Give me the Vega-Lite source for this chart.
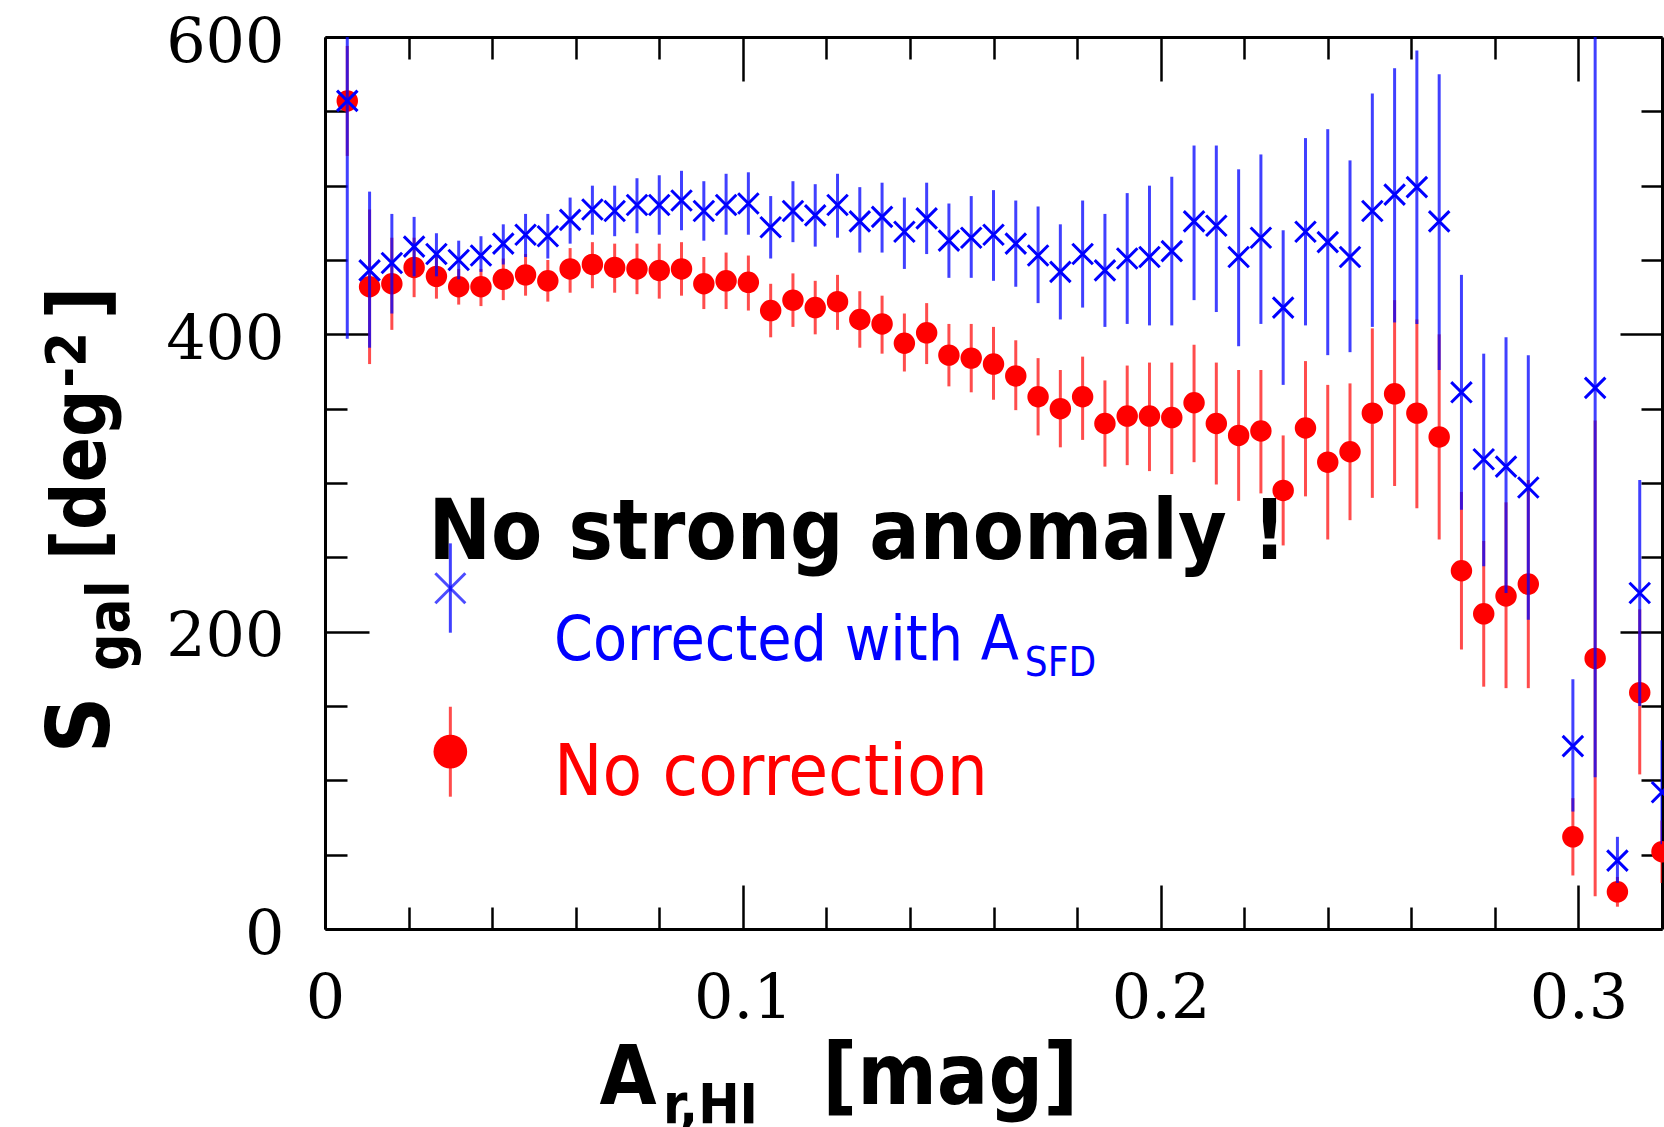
{
  "$schema": "https://vega.github.io/schema/vega-lite/v6.json",
  "autosize": {"type": "none"},
  "padding": {"left": 325, "top": 37, "right": 2, "bottom": 198},
  "width": 1337,
  "height": 892,
  "background": "white",
  "config": {
    "view": {"stroke": null},
    "axis": {
      "domainColor": "black",
      "domainWidth": 3,
      "tickColor": "black",
      "tickWidth": 2.5,
      "grid": false,
      "title": null,
      "labelFlush": false,
      "labelOverlap": false,
      "labelBound": false,
      "labelFont": "DejaVu Serif",
      "labelFontSize": 62,
      "labelColor": "black"
    }
  },
  "data": {
    "values": [
      {"a": 0.00533, "cor": 557, "cor_lo": 397, "cor_hi": 717, "raw": 557, "raw_lo": 520, "raw_hi": 594},
      {"a": 0.01067, "cor": 443, "cor_lo": 391, "cor_hi": 496, "raw": 432, "raw_lo": 380, "raw_hi": 484},
      {"a": 0.016, "cor": 448, "cor_lo": 414, "cor_hi": 481, "raw": 434, "raw_lo": 403, "raw_hi": 465},
      {"a": 0.02133, "cor": 459, "cor_lo": 439, "cor_hi": 479, "raw": 445, "raw_lo": 425, "raw_hi": 465},
      {"a": 0.02667, "cor": 454, "cor_lo": 439, "cor_hi": 468, "raw": 439, "raw_lo": 424, "raw_hi": 454},
      {"a": 0.032, "cor": 450, "cor_lo": 437, "cor_hi": 463, "raw": 432, "raw_lo": 420, "raw_hi": 444},
      {"a": 0.03733, "cor": 453, "cor_lo": 442, "cor_hi": 466, "raw": 432, "raw_lo": 419, "raw_hi": 444},
      {"a": 0.04267, "cor": 461, "cor_lo": 447, "cor_hi": 474, "raw": 437, "raw_lo": 423, "raw_hi": 451},
      {"a": 0.048, "cor": 467, "cor_lo": 452, "cor_hi": 481, "raw": 440, "raw_lo": 426, "raw_hi": 454},
      {"a": 0.05333, "cor": 466, "cor_lo": 451, "cor_hi": 481, "raw": 436, "raw_lo": 422, "raw_hi": 450},
      {"a": 0.05867, "cor": 477, "cor_lo": 461, "cor_hi": 492, "raw": 444, "raw_lo": 428, "raw_hi": 458},
      {"a": 0.064, "cor": 484, "cor_lo": 467, "cor_hi": 500, "raw": 447, "raw_lo": 431, "raw_hi": 462},
      {"a": 0.06933, "cor": 483, "cor_lo": 466, "cor_hi": 500, "raw": 445, "raw_lo": 428, "raw_hi": 461},
      {"a": 0.07467, "cor": 487, "cor_lo": 468, "cor_hi": 505, "raw": 444, "raw_lo": 427, "raw_hi": 461},
      {"a": 0.08, "cor": 487, "cor_lo": 467, "cor_hi": 507, "raw": 443, "raw_lo": 424, "raw_hi": 461},
      {"a": 0.08533, "cor": 490, "cor_lo": 470, "cor_hi": 510, "raw": 444, "raw_lo": 426, "raw_hi": 462},
      {"a": 0.09067, "cor": 483, "cor_lo": 463, "cor_hi": 503, "raw": 434, "raw_lo": 417, "raw_hi": 452},
      {"a": 0.096, "cor": 487, "cor_lo": 467, "cor_hi": 508, "raw": 436, "raw_lo": 417, "raw_hi": 455},
      {"a": 0.10133, "cor": 488, "cor_lo": 467, "cor_hi": 509, "raw": 435, "raw_lo": 416, "raw_hi": 453},
      {"a": 0.10667, "cor": 472, "cor_lo": 451, "cor_hi": 493, "raw": 416, "raw_lo": 398, "raw_hi": 434},
      {"a": 0.112, "cor": 483, "cor_lo": 462, "cor_hi": 503, "raw": 423, "raw_lo": 405, "raw_hi": 441},
      {"a": 0.11733, "cor": 480, "cor_lo": 459, "cor_hi": 501, "raw": 418, "raw_lo": 400, "raw_hi": 436},
      {"a": 0.12267, "cor": 487, "cor_lo": 465, "cor_hi": 508, "raw": 422, "raw_lo": 403, "raw_hi": 440},
      {"a": 0.128, "cor": 476, "cor_lo": 455, "cor_hi": 499, "raw": 410, "raw_lo": 391, "raw_hi": 429},
      {"a": 0.13333, "cor": 479, "cor_lo": 455, "cor_hi": 502, "raw": 407, "raw_lo": 387, "raw_hi": 426},
      {"a": 0.13867, "cor": 469, "cor_lo": 444, "cor_hi": 492, "raw": 394, "raw_lo": 375, "raw_hi": 414},
      {"a": 0.144, "cor": 478, "cor_lo": 454, "cor_hi": 502, "raw": 401, "raw_lo": 380, "raw_hi": 421},
      {"a": 0.14933, "cor": 463, "cor_lo": 438, "cor_hi": 488, "raw": 386, "raw_lo": 365, "raw_hi": 407},
      {"a": 0.15467, "cor": 465, "cor_lo": 438, "cor_hi": 493, "raw": 384, "raw_lo": 361, "raw_hi": 407},
      {"a": 0.16, "cor": 467, "cor_lo": 436, "cor_hi": 497, "raw": 380, "raw_lo": 356, "raw_hi": 405},
      {"a": 0.16533, "cor": 461, "cor_lo": 432, "cor_hi": 490, "raw": 372, "raw_lo": 349, "raw_hi": 396},
      {"a": 0.17067, "cor": 453, "cor_lo": 421, "cor_hi": 486, "raw": 358, "raw_lo": 332, "raw_hi": 384},
      {"a": 0.176, "cor": 442, "cor_lo": 410, "cor_hi": 474, "raw": 350, "raw_lo": 324, "raw_hi": 376},
      {"a": 0.18133, "cor": 454, "cor_lo": 418, "cor_hi": 490, "raw": 358, "raw_lo": 329, "raw_hi": 385},
      {"a": 0.18667, "cor": 443, "cor_lo": 405, "cor_hi": 481, "raw": 340, "raw_lo": 311, "raw_hi": 369},
      {"a": 0.192, "cor": 451, "cor_lo": 407, "cor_hi": 495, "raw": 345, "raw_lo": 312, "raw_hi": 379},
      {"a": 0.19733, "cor": 452, "cor_lo": 406, "cor_hi": 500, "raw": 345, "raw_lo": 308, "raw_hi": 381},
      {"a": 0.20267, "cor": 456, "cor_lo": 406, "cor_hi": 506, "raw": 344, "raw_lo": 306, "raw_hi": 381},
      {"a": 0.208, "cor": 476, "cor_lo": 423, "cor_hi": 527, "raw": 354, "raw_lo": 314, "raw_hi": 393},
      {"a": 0.21333, "cor": 473, "cor_lo": 415, "cor_hi": 527, "raw": 340, "raw_lo": 299, "raw_hi": 381},
      {"a": 0.21867, "cor": 452, "cor_lo": 392, "cor_hi": 511, "raw": 332, "raw_lo": 288, "raw_hi": 376},
      {"a": 0.224, "cor": 465, "cor_lo": 407, "cor_hi": 521, "raw": 335, "raw_lo": 293, "raw_hi": 376},
      {"a": 0.22933, "cor": 418, "cor_lo": 366, "cor_hi": 470, "raw": 295, "raw_lo": 258, "raw_hi": 332},
      {"a": 0.23467, "cor": 469, "cor_lo": 406, "cor_hi": 532, "raw": 337, "raw_lo": 291, "raw_hi": 382},
      {"a": 0.24, "cor": 462, "cor_lo": 386, "cor_hi": 538, "raw": 314, "raw_lo": 262, "raw_hi": 366},
      {"a": 0.24533, "cor": 452, "cor_lo": 388, "cor_hi": 517, "raw": 321, "raw_lo": 275, "raw_hi": 367},
      {"a": 0.25067, "cor": 483, "cor_lo": 405, "cor_hi": 562, "raw": 347, "raw_lo": 290, "raw_hi": 404},
      {"a": 0.256, "cor": 494, "cor_lo": 408, "cor_hi": 579, "raw": 360, "raw_lo": 298, "raw_hi": 423},
      {"a": 0.26133, "cor": 499, "cor_lo": 407, "cor_hi": 591, "raw": 347, "raw_lo": 283, "raw_hi": 410},
      {"a": 0.26667, "cor": 476, "cor_lo": 376, "cor_hi": 575, "raw": 331, "raw_lo": 262, "raw_hi": 400},
      {"a": 0.272, "cor": 361, "cor_lo": 282, "cor_hi": 440, "raw": 241, "raw_lo": 188, "raw_hi": 294},
      {"a": 0.27733, "cor": 316, "cor_lo": 244, "cor_hi": 387, "raw": 212, "raw_lo": 163, "raw_hi": 261},
      {"a": 0.28267, "cor": 311, "cor_lo": 226, "cor_hi": 398, "raw": 224, "raw_lo": 162, "raw_hi": 287},
      {"a": 0.288, "cor": 297, "cor_lo": 208, "cor_hi": 386, "raw": 232, "raw_lo": 162, "raw_hi": 302},
      {"a": 0.29867, "cor": 123, "cor_lo": 79, "cor_hi": 168, "raw": 62, "raw_lo": 36, "raw_hi": 88},
      {"a": 0.304, "cor": 364, "cor_lo": 102, "cor_hi": 626, "raw": 182, "raw_lo": 22, "raw_hi": 342},
      {"a": 0.30933, "cor": 46, "cor_lo": 31, "cor_hi": 62, "raw": 25, "raw_lo": 15, "raw_hi": 35},
      {"a": 0.31467, "cor": 226, "cor_lo": 150, "cor_hi": 302, "raw": 159, "raw_lo": 104, "raw_hi": 215},
      {"a": 0.32, "cor": 92, "cor_lo": 57, "cor_hi": 127, "raw": 52, "raw_lo": 31, "raw_hi": 73}
    ]
  },
  "layer": [
    {
      "mark": {"type": "rule", "color": "#ff0000", "strokeWidth": 3, "opacity": 0.7, "clip": true},
      "encoding": {
        "x": {
          "field": "a", "type": "quantitative",
          "scale": {"domain": [0, 0.32], "nice": false, "zero": false},
          "axis": {
            "orient": "bottom",
            "values": [0, 0.02, 0.04, 0.06, 0.08, 0.1, 0.12, 0.14, 0.16, 0.18, 0.2, 0.22, 0.24, 0.26, 0.28, 0.3],
            "tickSize": {"condition": {"test": "abs(datum.value * 10 - round(datum.value * 10)) < 0.001", "value": -44}, "value": -22},
            "labelExpr": "abs(datum.value * 10 - round(datum.value * 10)) < 0.001 ? (datum.value == 0 ? '0' : format(datum.value, '.1f')) : ''",
            "labelPadding": 83,
            "labelBaseline": "top",
            "labelAlign": "center"
          }
        },
        "y": {
          "field": "raw_lo", "type": "quantitative",
          "scale": {"domain": [0, 600], "nice": false},
          "axis": {
            "orient": "left",
            "values": [0, 50, 100, 150, 200, 250, 300, 350, 400, 450, 500, 550, 600],
            "tickSize": {"condition": {"test": "datum.value % 200 === 0", "value": -44}, "value": -22},
            "labelExpr": "datum.value % 200 === 0 ? datum.label : ''",
            "labelPadding": 85,
            "labelBaseline": "middle",
            "labelAlign": "right",
            "labelOffset": 5
          }
        },
        "y2": {"field": "raw_hi"}
      }
    },
    {
      "mark": {"type": "point", "shape": "circle", "filled": true, "color": "#ff0000", "opacity": 1, "size": 460},
      "encoding": {
        "x": {"field": "a", "type": "quantitative", "scale": {"domain": [0, 0.32], "nice": false, "zero": false}, "axis": null},
        "y": {"field": "raw", "type": "quantitative", "scale": {"domain": [0, 600], "nice": false}, "axis": null}
      }
    },
    {
      "mark": {"type": "rule", "color": "#0000ff", "strokeWidth": 3, "opacity": 0.75, "clip": true},
      "encoding": {
        "x": {"field": "a", "type": "quantitative", "scale": {"domain": [0, 0.32], "nice": false, "zero": false}, "axis": null},
        "y": {"field": "cor_lo", "type": "quantitative", "scale": {"domain": [0, 600], "nice": false}, "axis": null},
        "y2": {"field": "cor_hi"}
      }
    },
    {
      "mark": {"type": "point", "shape": "M-1,-1L1,1M-1,1L1,-1", "filled": false, "color": "#0000ff", "strokeWidth": 3, "opacity": 1, "size": 420},
      "encoding": {
        "x": {
          "field": "a", "type": "quantitative",
          "scale": {"domain": [0, 0.32], "nice": false, "zero": false},
          "axis": {
            "orient": "top",
            "values": [0, 0.02, 0.04, 0.06, 0.08, 0.1, 0.12, 0.14, 0.16, 0.18, 0.2, 0.22, 0.24, 0.26, 0.28, 0.3],
            "tickSize": {"condition": {"test": "abs(datum.value * 10 - round(datum.value * 10)) < 0.001", "value": -44}, "value": -22},
            "labels": false
          }
        },
        "y": {
          "field": "cor", "type": "quantitative",
          "scale": {"domain": [0, 600], "nice": false},
          "axis": {
            "orient": "right",
            "values": [0, 50, 100, 150, 200, 250, 300, 350, 400, 450, 500, 550, 600],
            "tickSize": {"condition": {"test": "datum.value % 200 === 0", "value": -42}, "value": -21},
            "labels": false
          }
        }
      }
    },
    {
      "data": {"values": [{}]},
      "mark": {"type": "text", "text": "No strong anomaly !", "font": "DejaVu Sans Condensed", "fontWeight": "bold", "fontSize": 83, "align": "left", "baseline": "alphabetic", "color": "black"},
      "encoding": {
        "x": {"datum": 0.0248, "type": "quantitative", "scale": {"domain": [0, 0.32], "nice": false, "zero": false}, "axis": null},
        "y": {"datum": 248.7, "type": "quantitative", "scale": {"domain": [0, 600], "nice": false}, "axis": null}
      }
    },
    {
      "data": {"values": [{}]},
      "mark": {"type": "rule", "color": "#0000ff", "strokeWidth": 3, "opacity": 0.75},
      "encoding": {
        "x": {"datum": 0.030, "type": "quantitative", "scale": {"domain": [0, 0.32], "nice": false, "zero": false}, "axis": null},
        "y": {"datum": 199.3, "type": "quantitative", "scale": {"domain": [0, 600], "nice": false}, "axis": null},
        "y2": {"datum": 259.4}
      }
    },
    {
      "data": {"values": [{}]},
      "mark": {"type": "point", "shape": "M-1,-1L1,1M-1,1L1,-1", "filled": false, "color": "#0000ff", "strokeWidth": 3, "size": 900},
      "encoding": {
        "x": {"datum": 0.030, "type": "quantitative", "scale": {"domain": [0, 0.32], "nice": false, "zero": false}, "axis": null},
        "y": {"datum": 229.2, "type": "quantitative", "scale": {"domain": [0, 600], "nice": false}, "axis": null}
      }
    },
    {
      "data": {"values": [{}]},
      "mark": {"type": "text", "text": "Corrected with A", "font": "DejaVu Sans Condensed", "fontSize": 62, "align": "left", "baseline": "alphabetic", "color": "#0000ff"},
      "encoding": {
        "x": {"datum": 0.0548, "type": "quantitative", "scale": {"domain": [0, 0.32], "nice": false, "zero": false}, "axis": null},
        "y": {"datum": 180.9, "type": "quantitative", "scale": {"domain": [0, 600], "nice": false}, "axis": null}
      }
    },
    {
      "data": {"values": [{}]},
      "mark": {"type": "text", "text": "SFD", "font": "DejaVu Sans Condensed", "fontSize": 40, "align": "left", "baseline": "alphabetic", "color": "#0000ff"},
      "encoding": {
        "x": {"datum": 0.1675, "type": "quantitative", "scale": {"domain": [0, 0.32], "nice": false, "zero": false}, "axis": null},
        "y": {"datum": 170.4, "type": "quantitative", "scale": {"domain": [0, 600], "nice": false}, "axis": null}
      }
    },
    {
      "data": {"values": [{}]},
      "mark": {"type": "rule", "color": "#ff0000", "strokeWidth": 3, "opacity": 0.7},
      "encoding": {
        "x": {"datum": 0.030, "type": "quantitative", "scale": {"domain": [0, 0.32], "nice": false, "zero": false}, "axis": null},
        "y": {"datum": 89, "type": "quantitative", "scale": {"domain": [0, 600], "nice": false}, "axis": null},
        "y2": {"datum": 149.5}
      }
    },
    {
      "data": {"values": [{}]},
      "mark": {"type": "point", "shape": "circle", "filled": true, "color": "#ff0000", "opacity": 1, "size": 1134},
      "encoding": {
        "x": {"datum": 0.030, "type": "quantitative", "scale": {"domain": [0, 0.32], "nice": false, "zero": false}, "axis": null},
        "y": {"datum": 119.3, "type": "quantitative", "scale": {"domain": [0, 600], "nice": false}, "axis": null}
      }
    },
    {
      "data": {"values": [{}]},
      "mark": {"type": "text", "text": "No correction", "font": "DejaVu Sans Condensed", "fontSize": 72, "align": "left", "baseline": "alphabetic", "color": "#ff0000"},
      "encoding": {
        "x": {"datum": 0.0548, "type": "quantitative", "scale": {"domain": [0, 0.32], "nice": false, "zero": false}, "axis": null},
        "y": {"datum": 90.1, "type": "quantitative", "scale": {"domain": [0, 600], "nice": false}, "axis": null}
      }
    },
    {
      "data": {"values": [{}]},
      "mark": {"type": "text", "text": "S", "font": "DejaVu Sans Condensed", "fontWeight": "bold", "fontSize": 88, "align": "left", "baseline": "alphabetic", "angle": 270, "color": "black"},
      "encoding": {
        "x": {"datum": -0.0516, "type": "quantitative", "scale": {"domain": [0, 0.32], "nice": false, "zero": false}, "axis": null},
        "y": {"datum": 118, "type": "quantitative", "scale": {"domain": [0, 600], "nice": false}, "axis": null}
      }
    },
    {
      "data": {"values": [{}]},
      "mark": {"type": "text", "text": "gal", "font": "DejaVu Sans Condensed", "fontWeight": "bold", "fontSize": 58, "align": "left", "baseline": "alphabetic", "angle": 270, "color": "black"},
      "encoding": {
        "x": {"datum": -0.0468, "type": "quantitative", "scale": {"domain": [0, 0.32], "nice": false, "zero": false}, "axis": null},
        "y": {"datum": 173.7, "type": "quantitative", "scale": {"domain": [0, 600], "nice": false}, "axis": null}
      }
    },
    {
      "data": {"values": [{}]},
      "mark": {"type": "text", "text": "[deg", "font": "DejaVu Sans Condensed", "fontWeight": "bold", "fontSize": 74, "align": "left", "baseline": "alphabetic", "angle": 270, "color": "black"},
      "encoding": {
        "x": {"datum": -0.0527, "type": "quantitative", "scale": {"domain": [0, 0.32], "nice": false, "zero": false}, "axis": null},
        "y": {"datum": 248, "type": "quantitative", "scale": {"domain": [0, 600], "nice": false}, "axis": null}
      }
    },
    {
      "data": {"values": [{}]},
      "mark": {"type": "text", "text": "-2", "font": "DejaVu Sans Condensed", "fontWeight": "bold", "fontSize": 56, "align": "left", "baseline": "alphabetic", "angle": 270, "color": "black"},
      "encoding": {
        "x": {"datum": -0.0574, "type": "quantitative", "scale": {"domain": [0, 0.32], "nice": false, "zero": false}, "axis": null},
        "y": {"datum": 364, "type": "quantitative", "scale": {"domain": [0, 600], "nice": false}, "axis": null}
      }
    },
    {
      "data": {"values": [{}]},
      "mark": {"type": "text", "text": "]", "font": "DejaVu Sans Condensed", "fontWeight": "bold", "fontSize": 80, "align": "left", "baseline": "alphabetic", "angle": 270, "color": "black"},
      "encoding": {
        "x": {"datum": -0.0527, "type": "quantitative", "scale": {"domain": [0, 0.32], "nice": false, "zero": false}, "axis": null},
        "y": {"datum": 410, "type": "quantitative", "scale": {"domain": [0, 600], "nice": false}, "axis": null}
      }
    },
    {
      "data": {"values": [{}]},
      "mark": {"type": "text", "text": "A", "font": "DejaVu Sans Condensed", "fontWeight": "bold", "fontSize": 82, "align": "left", "baseline": "alphabetic", "color": "black"},
      "encoding": {
        "x": {"datum": 0.0657, "type": "quantitative", "scale": {"domain": [0, 0.32], "nice": false, "zero": false}, "axis": null},
        "y": {"datum": -117.5, "type": "quantitative", "scale": {"domain": [0, 600], "nice": false}, "axis": null}
      }
    },
    {
      "data": {"values": [{}]},
      "mark": {"type": "text", "text": "r,HI", "font": "DejaVu Sans Condensed", "fontWeight": "bold", "fontSize": 55, "align": "left", "baseline": "alphabetic", "color": "black"},
      "encoding": {
        "x": {"datum": 0.0809, "type": "quantitative", "scale": {"domain": [0, 0.32], "nice": false, "zero": false}, "axis": null},
        "y": {"datum": -130.4, "type": "quantitative", "scale": {"domain": [0, 600], "nice": false}, "axis": null}
      }
    },
    {
      "data": {"values": [{}]},
      "mark": {"type": "text", "text": "[mag]", "font": "DejaVu Sans Condensed", "fontWeight": "bold", "fontSize": 85, "align": "left", "baseline": "alphabetic", "color": "black"},
      "encoding": {
        "x": {"datum": 0.119, "type": "quantitative", "scale": {"domain": [0, 0.32], "nice": false, "zero": false}, "axis": null},
        "y": {"datum": -117.5, "type": "quantitative", "scale": {"domain": [0, 600], "nice": false}, "axis": null}
      }
    }
  ],
  "resolve": {"axis": {"x": "independent", "y": "independent"}}
}
